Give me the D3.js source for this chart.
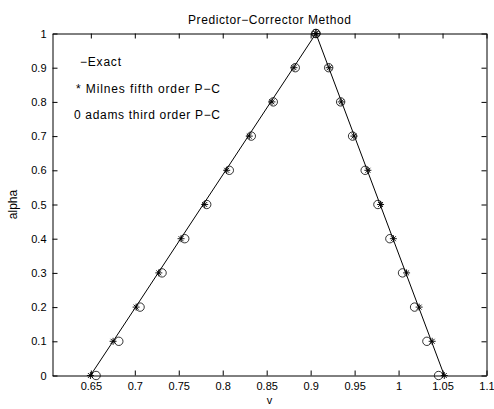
<!DOCTYPE html>
<html>
<head>
<meta charset="utf-8">
<script src="https://cdn.jsdelivr.net/npm/d3@7"></script>
<style>
  body { margin: 0; background: #fff; }
  text { font-family: "Liberation Sans", Arial, sans-serif; font-size: 12px; fill: #000; }
</style>
</head>
<body>
<script>
// alpha levels, one per point on each side
var alpha = [0, 0.1, 0.2, 0.3, 0.4, 0.5, 0.6, 0.7, 0.8, 0.9, 1];

// exact solution, left and right branches
var exactLeft  = [0.6495, 0.6753, 0.7010, 0.7266, 0.7522, 0.7778, 0.8035, 0.8291, 0.8547, 0.8804, 0.9060];
var exactRight = [1.0520, 1.0374, 1.0228, 1.0082, 0.9936, 0.9790, 0.9644, 0.9498, 0.9352, 0.9206, 0.9060];

// Milne fifth order P-C (stars)
var milneLeft  = [0.6495, 0.6753, 0.7015, 0.7273, 0.7526, 0.7795, 0.8045, 0.8302, 0.8560, 0.8810, 0.9060];
var milneRight = [1.0520, 1.0382, 1.0234, 1.0091, 0.9941, 0.9795, 0.9651, 0.9492, 0.9348, 0.9211, 0.9060];

// Adams third order P-C (circles)
var adamsLeft  = [0.6560, 0.6818, 0.7060, 0.7310, 0.7568, 0.7818, 0.8075, 0.8325, 0.8575, 0.8825, 0.9060];
var adamsRight = [1.0455, 1.0322, 1.0182, 1.0045, 0.9901, 0.9765, 0.9620, 0.9477, 0.9341, 0.9205, 0.9060];

var xTicks = [0.65, 0.7, 0.75, 0.8, 0.85, 0.9, 0.95, 1, 1.05, 1.1];
var yTicks = [0, 0.1, 0.2, 0.3, 0.4, 0.5, 0.6, 0.7, 0.8, 0.9, 1];

var W = 494, H = 409;
var margin = {top: 33.5, right: 7.5, bottom: 33.5, left: 52.5},
    width = W - margin.left - margin.right,
    height = H - margin.top - margin.bottom;

var svg = d3.select("body").append("svg")
    .attr("width", W)
    .attr("height", H);

var g = svg.append("g")
    .attr("transform", "translate(" + margin.left + "," + margin.top + ")");

var x = d3.scaleLinear().domain([0.6064, 1.1]).range([0, width]);
var y = d3.scaleLinear().domain([0, 1]).range([height, 0]);

var fmt = function(d) { return String(+d.toFixed(2)); };

// axes, ticks inward like matlab
g.append("g")
    .attr("transform", "translate(0," + height + ")")
    .call(d3.axisBottom(x).tickValues(xTicks).tickSizeInner(-5).tickSizeOuter(0).tickPadding(7).tickFormat(fmt));
g.append("g")
    .call(d3.axisTop(x).tickValues(xTicks).tickSizeInner(-5).tickSizeOuter(0).tickFormat(""));
g.append("g")
    .call(d3.axisLeft(y).tickValues(yTicks).tickSizeInner(-5).tickSizeOuter(0).tickPadding(6).tickFormat(fmt));
g.append("g")
    .attr("transform", "translate(" + width + ",0)")
    .call(d3.axisRight(y).tickValues(yTicks).tickSizeInner(-5).tickSizeOuter(0).tickFormat(""));

g.selectAll(".domain").attr("stroke", "#000").attr("stroke-width", 1);
g.selectAll(".tick line").attr("stroke", "#000");
g.selectAll(".tick text")
    .style("font-family", "Liberation Sans, Arial, sans-serif")
    .style("font-size", "11px")
    .attr("fill", "#000");

// exact line
var exactPts = alpha.map(function(a, i) { return [exactLeft[i], a]; })
    .concat(alpha.slice().reverse().slice(1).map(function(a, i) {
        var j = alpha.length - 2 - i;
        return [exactRight[j], alpha[j]];
    }));

var line = d3.line()
    .x(function(d) { return x(d[0]); })
    .y(function(d) { return y(d[1]); });

g.append("path")
    .datum(exactPts)
    .attr("d", line)
    .attr("fill", "none")
    .attr("stroke", "#000")
    .attr("stroke-width", 1);

// circles (adams)
var adamsPts = alpha.map(function(a, i) { return [adamsLeft[i], a]; })
    .concat(alpha.map(function(a, i) { return [adamsRight[i], a]; }));

g.selectAll(".adams")
    .data(adamsPts)
    .enter().append("circle")
    .attr("class", "adams")
    .attr("cx", function(d) { return x(d[0]); })
    .attr("cy", function(d) { return y(d[1]); })
    .attr("r", 4.2)
    .attr("fill", "none")
    .attr("stroke", "#000")
    .attr("stroke-width", 0.8);

// stars (milne)
var milnePts = alpha.map(function(a, i) { return [milneLeft[i], a]; })
    .concat(alpha.map(function(a, i) { return [milneRight[i], a]; }));

var s = 3.5, sd = s * 0.707;
var starPath = "M" + (-s) + ",0L" + s + ",0M0," + (-s) + "L0," + s +
    "M" + (-sd) + "," + (-sd) + "L" + sd + "," + sd +
    "M" + (-sd) + "," + sd + "L" + sd + "," + (-sd);

g.selectAll(".milne")
    .data(milnePts)
    .enter().append("path")
    .attr("class", "milne")
    .attr("transform", function(d) { return "translate(" + x(d[0]) + "," + y(d[1]) + ")"; })
    .attr("d", starPath)
    .attr("fill", "none")
    .attr("stroke", "#000")
    .attr("stroke-width", 0.9);

// legend text (plain text, as in the figure)
svg.append("text").attr("x", 80).attr("y", 66)
    .attr("textLength", 41).attr("lengthAdjust", "spacing").text("\u2212Exact");
svg.append("text").attr("x", 76).attr("y", 93)
    .attr("textLength", 144).attr("lengthAdjust", "spacing").text("* Milnes fifth order P\u2212C");
svg.append("text").attr("x", 74).attr("y", 119)
    .attr("textLength", 146).attr("lengthAdjust", "spacing").text("0 adams third order P\u2212C");

// title and axis labels
svg.append("text")
    .attr("x", margin.left + width / 2)
    .attr("y", 24)
    .attr("text-anchor", "middle")
    .attr("textLength", 163).attr("lengthAdjust", "spacing")
    .text("Predictor\u2212Corrector Method");

svg.append("text")
    .attr("x", margin.left + width / 2)
    .attr("y", 404)
    .attr("text-anchor", "middle")
    .style("font-size", "11px")
    .text("v");

svg.append("text")
    .attr("transform", "translate(17," + (margin.top + height / 2) + ") rotate(-90)")
    .attr("text-anchor", "middle")
    .text("alpha");
</script>
</body>
</html>
